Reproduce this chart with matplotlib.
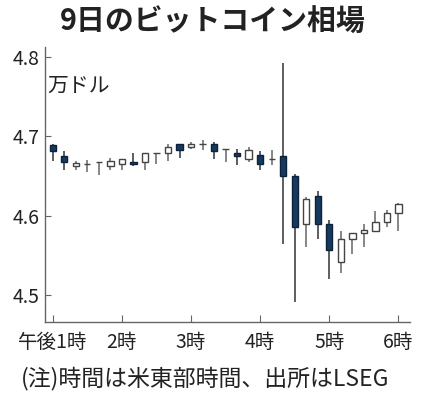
import matplotlib
matplotlib.use("Agg")
import matplotlib.pyplot as plt
import numpy as np

plt.rcParams['font.family'] = ['Noto Sans CJK JP', 'DejaVu Sans']

# 10-minute candles from 1:00pm to 6:00pm (US Eastern), unit: 10k USD
opens  = [4.689, 4.675, 4.662, 4.665, 4.668, 4.662, 4.665, 4.668, 4.668, 4.679,
          4.679, 4.690, 4.686, 4.690, 4.690, 4.684, 4.679, 4.671, 4.676, 4.671,
          4.675, 4.650, 4.589, 4.625, 4.589, 4.542, 4.570, 4.578, 4.581, 4.592,
          4.603]
highs  = [4.690, 4.682, 4.669, 4.670, 4.668, 4.672, 4.671, 4.679, 4.679, 4.679,
          4.690, 4.690, 4.693, 4.695, 4.693, 4.684, 4.684, 4.686, 4.682, 4.683,
          4.793, 4.652, 4.624, 4.631, 4.595, 4.581, 4.578, 4.589, 4.606, 4.607,
          4.616]
lows   = [4.669, 4.657, 4.658, 4.655, 4.651, 4.658, 4.658, 4.662, 4.658, 4.665,
          4.669, 4.672, 4.684, 4.683, 4.671, 4.668, 4.664, 4.668, 4.657, 4.664,
          4.564, 4.491, 4.560, 4.570, 4.520, 4.528, 4.552, 4.560, 4.581, 4.585,
          4.581]
closes = [4.682, 4.668, 4.666, 4.665, 4.668, 4.669, 4.671, 4.665, 4.679, 4.679,
          4.686, 4.683, 4.690, 4.690, 4.682, 4.684, 4.675, 4.683, 4.665, 4.671,
          4.650, 4.585, 4.621, 4.589, 4.556, 4.570, 4.578, 4.582, 4.592, 4.603,
          4.614]
xtick_labels = ['午後1時', '2時', '3時', '4時', '5時', '6時']
ytick_values = [4.5, 4.6, 4.7, 4.8]

fig = plt.figure(figsize=(4.25, 3.98), dpi=100)
ax = fig.add_axes([0.1059, 0.191, 0.8588, 0.691])

navy = '#163a5f'
x = np.arange(len(opens))
o = np.array(opens); c = np.array(closes)
down = c < o
wick_colors = ['#333333' if d else '#666666' for d in down]
ax.vlines(x, lows, highs, colors=wick_colors, lw=1.1, zorder=1)
bottoms = np.minimum(o, c)
heights = np.abs(c - o)
facecolors = [navy if d else 'white' for d in down]
edgecolors = ['#0d2238' if d else '#444444' for d in down]
ax.bar(x, heights, bottom=bottoms, width=0.55, color=facecolors,
       edgecolor=edgecolors, linewidth=1.0, zorder=2)

ax.set_xlim(-0.67, 31.0)
ax.set_ylim(4.4658, 4.8126)
ax.set_xticks(np.arange(0, 31, 6))
ax.set_xticklabels(xtick_labels)
ax.set_yticks(ytick_values)
ax.set_yticklabels([f'{v:.1f}' for v in ytick_values])

for s in ['top', 'right']:
    ax.spines[s].set_visible(False)
for s in ['left', 'bottom']:
    ax.spines[s].set_color('#666666')
    ax.spines[s].set_linewidth(1.0)
ax.tick_params(axis='both', direction='in', colors='#666666', labelcolor='#222222',
               labelsize=14)
ax.tick_params(axis='y', length=4, pad=4)
ax.tick_params(axis='x', length=5, pad=7)

ax.text(0.005, 0.86, '万ドル', transform=ax.transAxes, fontsize=15,
        color='#222222', ha='left', va='center')

fig.text(0.5, 0.945, '9日のビットコイン相場', ha='center', va='center',
         fontsize=20.8, fontweight='bold', color='#222222')
fig.text(0.048, 0.048, '(注)時間は米東部時間、出所はLSEG', ha='left',
         va='center', fontsize=16.5, color='#222222')

fig.savefig('out.png', dpi=100, facecolor='white')
